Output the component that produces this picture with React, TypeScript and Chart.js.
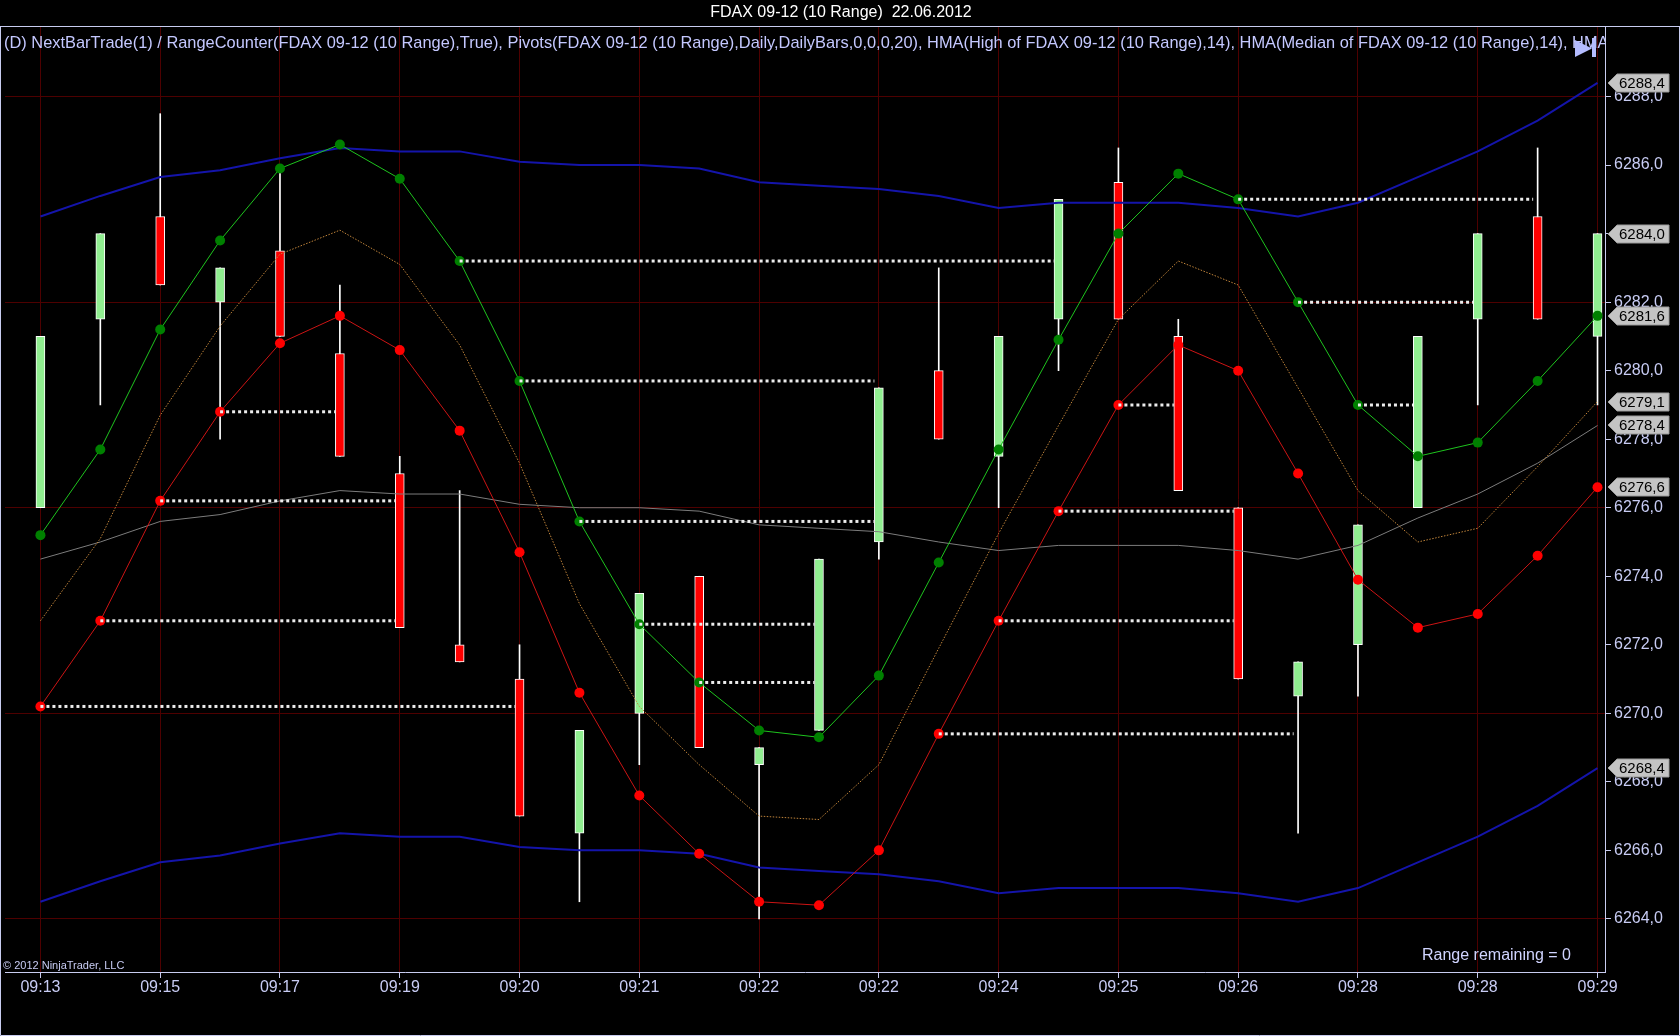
import React, { useEffect, useRef } from 'react';
import { Chart, registerables } from 'chart.js';

Chart.register(...registerables);

const FONT = '"Liberation Sans", Arial, Helvetica, sans-serif';

const titleText = 'FDAX 09-12 (10 Range)  22.06.2012';
const indicatorText =
  '(D) NextBarTrade(1) / RangeCounter(FDAX 09-12 (10 Range),True), Pivots(FDAX 09-12 (10 Range),Daily,DailyBars,0,0,0,20), HMA(High of FDAX 09-12 (10 Range),14), HMA(Median of FDAX 09-12 (10 Range),14), HMA';
const rangeText = 'Range remaining = 0';
const copyrightText = '\u00A9 2012 NinjaTrader, LLC';

// x axis: bar index of each labelled tick and its label
const xTickBars = [0, 2, 4, 6, 8, 10, 12, 14, 16, 18, 20, 22, 24, 26];
const xLabels = ['09:13', '09:15', '09:17', '09:19', '09:20', '09:21', '09:22', '09:22', '09:24', '09:25', '09:26', '09:28', '09:28', '09:29'];

// y axis tick values
const yTickValues = [6264, 6266, 6268, 6270, 6272, 6274, 6276, 6278, 6280, 6282, 6284, 6286, 6288];
const yGridStep = 6;
const yMin = 6262.45;
const yMax = 6290.03;
const xMin = -0.5917;
const xMax = 26.125;

// range bars (10 range)
const openV = [6276.0, 6281.5, 6284.5, 6282.0, 6283.5, 6280.5, 6277.0, 6272.0, 6271.0, 6266.5, 6270.0, 6274.0, 6268.5, 6269.5, 6275.0, 6280.0, 6277.5, 6281.5, 6285.5, 6281.0, 6276.0, 6270.5, 6272.0, 6276.0, 6281.5, 6284.5, 6281.0];
const closeV = [6281.0, 6284.0, 6282.5, 6283.0, 6281.0, 6277.5, 6272.5, 6271.5, 6267.0, 6269.5, 6273.5, 6269.0, 6269.0, 6274.5, 6279.5, 6278.0, 6281.0, 6285.0, 6281.5, 6276.5, 6271.0, 6271.5, 6275.5, 6281.0, 6284.0, 6281.5, 6284.0];
const highV = [6281.0, 6284.0, 6287.5, 6283.0, 6286.0, 6282.5, 6277.5, 6276.5, 6272.0, 6269.5, 6273.5, 6274.0, 6269.0, 6274.5, 6279.5, 6283.0, 6281.0, 6285.0, 6286.5, 6281.5, 6276.0, 6271.5, 6275.5, 6281.0, 6284.0, 6286.5, 6284.0];
const lowV = [6276.0, 6279.0, 6282.5, 6278.0, 6281.0, 6277.5, 6272.5, 6271.5, 6267.0, 6264.5, 6268.5, 6269.0, 6264.0, 6269.5, 6274.5, 6278.0, 6276.0, 6280.0, 6281.5, 6276.5, 6271.0, 6266.5, 6270.5, 6276.0, 6279.0, 6281.5, 6279.0];

// indicators
const hmaHigh = [6275.2, 6277.7, 6281.2, 6283.8, 6285.9, 6286.6, 6285.6, 6283.2, 6279.7, 6275.6, 6272.6, 6270.9, 6269.5, 6269.3, 6271.1, 6274.4, 6277.7, 6280.9, 6284.0, 6285.75, 6285.0, 6282.0, 6279.0, 6277.5, 6277.9, 6279.7, 6281.6];
const hmaLow = [6270.2, 6272.7, 6276.2, 6278.8, 6280.8, 6281.6, 6280.6, 6278.25, 6274.7, 6270.6, 6267.6, 6265.9, 6264.5, 6264.4, 6266.0, 6269.4, 6272.7, 6275.9, 6279.0, 6280.75, 6280.0, 6277.0, 6273.9, 6272.5, 6272.9, 6274.6, 6276.6];
const hmaMedian = [6272.7, 6275.1, 6278.7, 6281.3, 6283.4, 6284.1, 6283.1, 6280.75, 6277.3, 6273.2, 6270.2, 6268.5, 6267.0, 6266.9, 6268.5, 6271.9, 6275.25, 6278.4, 6281.5, 6283.2, 6282.5, 6279.5, 6276.5, 6275.0, 6275.4, 6277.2, 6279.1];
const midLine = [6274.5, 6275.0, 6275.6, 6275.8, 6276.2, 6276.5, 6276.4, 6276.4, 6276.1, 6276.0, 6276.0, 6275.9, 6275.5, 6275.4, 6275.3, 6275.0, 6274.75, 6274.9, 6274.9, 6274.9, 6274.75, 6274.5, 6274.9, 6275.7, 6276.4, 6277.3, 6278.4];
const upperBand = [6284.5, 6285.1, 6285.65, 6285.85, 6286.2, 6286.5, 6286.4, 6286.4, 6286.1, 6286.0, 6286.0, 6285.9, 6285.5, 6285.4, 6285.3, 6285.1, 6284.75, 6284.9, 6284.9, 6284.9, 6284.75, 6284.5, 6284.9, 6285.65, 6286.4, 6287.3, 6288.4];
const lowerBand = [6264.5, 6265.1, 6265.65, 6265.85, 6266.2, 6266.5, 6266.4, 6266.4, 6266.1, 6266.0, 6266.0, 6265.9, 6265.5, 6265.4, 6265.3, 6265.1, 6264.75, 6264.9, 6264.9, 6264.9, 6264.75, 6264.5, 6264.9, 6265.65, 6266.4, 6267.3, 6268.4];

// NextBarTrade dotted levels: start bar, bar that fills it, level
const pivotStart = [0, 1, 2, 3, 7, 8, 9, 10, 11, 15, 16, 17, 18, 20, 21, 22];
const pivotEnd = [8, 6, 6, 5, 17, 14, 14, 13, 13, 21, 20, 20, 19, 25, 24, 23];
const pivotLevel = [6270.2, 6272.7, 6276.2, 6278.8, 6283.2, 6279.7, 6275.6, 6272.6, 6270.9, 6269.4, 6272.7, 6275.9, 6279.0, 6285.0, 6282.0, 6279.0];

const BG = '#000000';
const GRID = '#4e0000';
const AXIS_LINE = '#c8ccf0';
const AXIS_TEXT = '#c8ccf4';

const fmt = (v: number) => v.toFixed(1).replace('.', ',');

const overlayPlugin = {
  id: 'ninjaOverlay',
  beforeDraw(chart: any) {
    const { ctx, width, height } = chart;
    ctx.save();
    ctx.fillStyle = BG;
    ctx.fillRect(0, 0, width, height);
    ctx.restore();
  },
  afterDraw(chart: any) {
    const { ctx, chartArea: ca, width, height } = chart;
    const ys = chart.scales.y;
    ctx.save();

    // indicator line (clipped to plot)
    ctx.save();
    ctx.beginPath();
    ctx.rect(ca.left, ca.top, ca.right - ca.left, ca.bottom - ca.top);
    ctx.clip();
    ctx.font = `16.4px ${FONT}`;
    ctx.fillStyle = '#c4c8ff';
    ctx.textAlign = 'left';
    ctx.textBaseline = 'alphabetic';
    ctx.fillText(indicatorText, 4, 47.5);
    // play/bar icon
    ctx.fillStyle = '#b4bcff';
    ctx.beginPath();
    ctx.moveTo(ca.right - 30, 40);
    ctx.lineTo(ca.right - 30, 57);
    ctx.lineTo(ca.right - 13, 48.5);
    ctx.closePath();
    ctx.fill();
    ctx.fillRect(ca.right - 13, 38, 4, 19);
    ctx.restore();

    // range remaining & copyright
    ctx.font = `16px ${FONT}`;
    ctx.fillStyle = '#d0d4ff';
    ctx.textAlign = 'right';
    ctx.textBaseline = 'middle';
    ctx.fillText(rangeText, ca.right - 34, ca.bottom - 16);
    ctx.font = `11px ${FONT}`;
    ctx.fillStyle = '#c8ccf4';
    ctx.textAlign = 'left';
    ctx.fillText(copyrightText, 3, ca.bottom - 6);

    // outer frame
    ctx.strokeStyle = AXIS_LINE;
    ctx.lineWidth = 1;
    ctx.beginPath();
    ctx.moveTo(0, Math.round(ca.top) - 0.5);
    ctx.lineTo(width, Math.round(ca.top) - 0.5);
    ctx.moveTo(0.5, Math.round(ca.top) - 0.5);
    ctx.lineTo(0.5, height - 0.5);
    ctx.lineTo(width - 0.5, height - 0.5);
    ctx.lineTo(width - 0.5, Math.round(ca.top) - 0.5);
    ctx.stroke();

    // last-value markers
    const markers = [
      upperBand[upperBand.length - 1],
      closeV[closeV.length - 1],
      hmaHigh[hmaHigh.length - 1],
      hmaMedian[hmaMedian.length - 1],
      midLine[midLine.length - 1],
      hmaLow[hmaLow.length - 1],
      lowerBand[lowerBand.length - 1],
    ];
    ctx.font = `15px ${FONT}`;
    ctx.textAlign = 'left';
    ctx.textBaseline = 'middle';
    markers.forEach((v) => {
      const y = Math.round(ys.getPixelForValue(v));
      const x0 = ca.right + 3;
      ctx.beginPath();
      ctx.moveTo(x0, y);
      ctx.lineTo(x0 + 9, y - 9);
      ctx.lineTo(x0 + 61, y - 9);
      ctx.lineTo(x0 + 61, y + 9);
      ctx.lineTo(x0 + 9, y + 9);
      ctx.closePath();
      ctx.fillStyle = '#c4c4c4';
      ctx.fill();
      ctx.strokeStyle = '#9a9a9a';
      ctx.stroke();
      ctx.fillStyle = '#000000';
      ctx.fillText(fmt(v), x0 + 11, y + 1);
    });
    ctx.restore();
  },
};

export default function App() {
  const canvasRef = useRef<HTMLCanvasElement | null>(null);

  useEffect(() => {
    const canvas = canvasRef.current;
    if (!canvas) return;
    const idx = openV.map((_, i) => i);
    const lineDs = (label: string, values: number[], extra: any) => ({
      type: 'line',
      label,
      data: values.map((v, i) => ({ x: i, y: v })),
      tension: 0,
      pointRadius: 0,
      borderWidth: 1,
      fill: false,
      ...extra,
    });

    const pivotSets = pivotStart.map((s, k) => ({
      type: 'line',
      label: `pivot${k}`,
      data: [
        { x: s, y: pivotLevel[k] },
        { x: pivotEnd[k] - 0.075, y: pivotLevel[k] },
      ],
      borderColor: '#ececec',
      borderWidth: 3,
      borderDash: [3, 3],
      pointRadius: 0,
      tension: 0,
      fill: false,
      order: 1,
    }));

    const chart = new Chart(canvas, {
      type: 'bar',
      data: {
        datasets: [
          {
            type: 'bar',
            label: 'wick',
            data: idx.map((i) => ({ x: i, y: [lowV[i], highV[i]] })),
            backgroundColor: '#ffffff',
            borderWidth: 0,
            barThickness: 1,
            grouped: false,
            order: 20,
          },
          {
            type: 'bar',
            label: 'body',
            data: idx.map((i) => ({ x: i, y: [openV[i], closeV[i]] })),
            backgroundColor: idx.map((i) => (closeV[i] >= openV[i] ? '#90ee90' : '#ff0000')),
            borderColor: '#ffffff',
            borderWidth: 1,
            borderSkipped: false,
            barThickness: 9,
            grouped: false,
            order: 19,
          },
          lineDs('upper', upperBand, { borderColor: '#1414aa', borderWidth: 2, order: 10 }),
          lineDs('lower', lowerBand, { borderColor: '#1414aa', borderWidth: 2, order: 10 }),
          lineDs('mid', midLine, { borderColor: '#7c7c7c', order: 10 }),
          lineDs('median', hmaMedian, { borderColor: '#c0843a', borderDash: [1.5, 1.5], order: 9 }),
          lineDs('hmaLow', hmaLow, {
            borderColor: '#cc1414',
            pointRadius: 5,
            pointBackgroundColor: '#ff0000',
            pointBorderWidth: 0,
            order: 8,
          }),
          lineDs('hmaHigh', hmaHigh, {
            borderColor: '#1ec41e',
            pointRadius: 5,
            pointBackgroundColor: '#008000',
            pointBorderWidth: 0,
            order: 7,
          }),
          ...pivotSets,
        ] as any,
      },
      options: {
        responsive: false,
        animation: false,
        devicePixelRatio: 1,
        events: [],
        layout: { padding: { left: 2, right: 0, top: 0, bottom: 0 } },
        plugins: {
          legend: { display: false },
          tooltip: { enabled: false },
          title: {
            display: true,
            text: titleText,
            color: '#ffffff',
            font: { family: FONT, size: 16, weight: 'normal', lineHeight: 1.125 },
            padding: { top: 4, bottom: 5 },
          },
        },
        scales: {
          x: {
            type: 'linear',
            min: xMin,
            max: xMax,
            offset: false,
            afterFit: (s: any) => {
              s.height = 64;
            },
            afterBuildTicks: (s: any) => {
              s.ticks = xTickBars.map((v) => ({ value: v }));
            },
            ticks: {
              autoSkip: false,
              maxRotation: 0,
              minRotation: 0,
              color: AXIS_TEXT,
              font: { family: FONT, size: 16 },
              padding: 0,
              callback: (v: any) => {
                const k = xTickBars.indexOf(Number(v));
                return k >= 0 ? xLabels[k] : '';
              },
            },
            grid: {
              color: GRID,
              lineWidth: 1,
              tickLength: 6,
              tickColor: AXIS_LINE,
              offset: false,
              drawOnChartArea: true,
            },
            border: { display: true, color: AXIS_LINE, width: 1 },
          },
          y: {
            type: 'linear',
            position: 'right',
            min: yMin,
            max: yMax,
            afterFit: (s: any) => {
              s.width = 75;
            },
            afterBuildTicks: (s: any) => {
              s.ticks = yTickValues.map((v) => ({ value: v }));
            },
            ticks: {
              color: AXIS_TEXT,
              font: { family: FONT, size: 16 },
              padding: 3,
              callback: (v: any) => fmt(Number(v)),
            },
            grid: {
              color: (c: any) =>
                c.tick && Math.abs((c.tick.value - yTickValues[0]) % yGridStep) < 1e-6 ? GRID : 'rgba(0,0,0,0)',
              lineWidth: 1,
              tickLength: 6,
              tickColor: AXIS_LINE,
              drawOnChartArea: true,
            },
            border: { display: true, color: AXIS_LINE, width: 1 },
          },
        },
      } as any,
      plugins: [overlayPlugin],
    });
    return () => chart.destroy();
  }, []);

  return (
    <div style={{ position: 'absolute', left: 0, top: 0, width: 1680, height: 1036, background: BG }}>
      <canvas ref={canvasRef} width={1680} height={1036} style={{ display: 'block', width: 1680, height: 1036 }} />
    </div>
  );
}
